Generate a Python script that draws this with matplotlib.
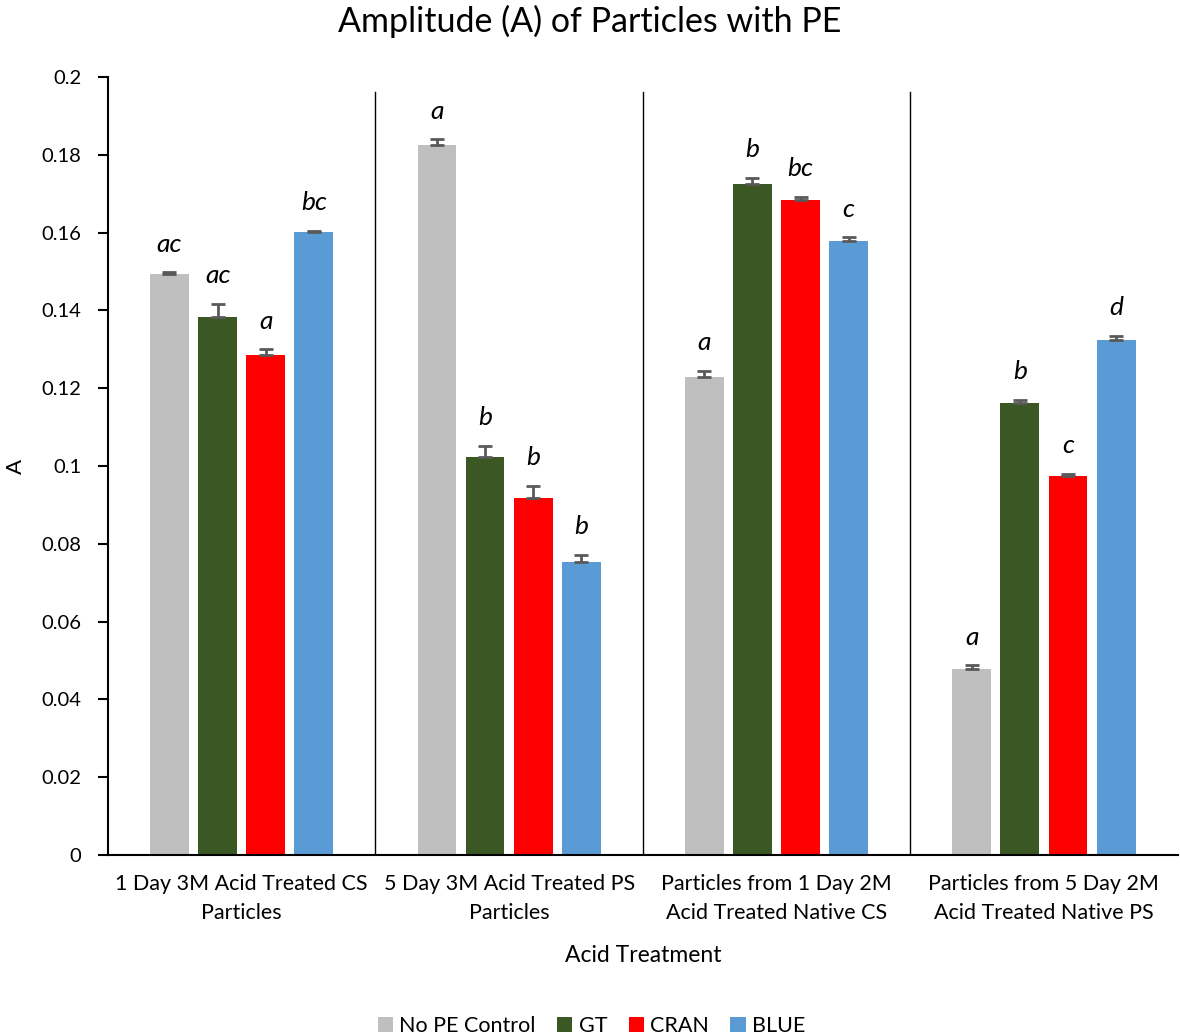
import matplotlib.pyplot as plt
import numpy as np

plt.rcParams['font.family'] = ['Lato', 'DejaVu Sans']

categories = ['1 Day 3M Acid Treated CS\nParticles', '5 Day 3M Acid Treated PS\nParticles',
              'Particles from 1 Day 2M\nAcid Treated Native CS', 'Particles from 5 Day 2M\nAcid Treated Native PS']
series = ['No PE Control', 'GT', 'CRAN', 'BLUE']
colors = ['#BFBFBF', '#3A5724', '#FF0000', '#5B9BD5']

no_pe = [0.1494, 0.1825, 0.1229, 0.0478]
gt = [0.1383, 0.1023, 0.1725, 0.1162]
cran = [0.1285, 0.0918, 0.1684, 0.0974]
blue = [0.1602, 0.0753, 0.1578, 0.1324]

no_pe_err = [0.0004, 0.0015, 0.0015, 0.0010]
gt_err = [0.0033, 0.0028, 0.0015, 0.0008]
cran_err = [0.0015, 0.0031, 0.0008, 0.0005]
blue_err = [0.0003, 0.0018, 0.0010, 0.0010]

no_pe_let = ['ac', 'a', 'a', 'a']
gt_let = ['ac', 'b', 'b', 'b']
cran_let = ['a', 'b', 'bc', 'c']
blue_let = ['bc', 'b', 'c', 'd']

vals = [no_pe, gt, cran, blue]
errs = [no_pe_err, gt_err, cran_err, blue_err]
lets = [no_pe_let, gt_let, cran_let, blue_let]

fig = plt.figure(figsize=(11.8, 10.36), dpi=100)
ax = fig.add_axes([0.0915, 0.1747, 0.9065, 0.751])

x = np.arange(len(categories))
w = 0.145
step = 0.18
for i in range(4):
    pos = x + (i - 1.5) * step
    ax.bar(pos, vals[i], w, color=colors[i], label=series[i], zorder=2)
    ax.errorbar(pos, vals[i], yerr=[np.zeros(4), errs[i]], fmt='none',
                ecolor='#595959', elinewidth=2, capsize=5, capthick=2, zorder=3)
    for p, v, e, t in zip(pos, vals[i], errs[i], lets[i]):
        ax.annotate(t, (p, v + e), xytext=(0, 12), textcoords='offset points',
                    ha='center', va='bottom', fontsize=19, style='italic')

for b in [0.5, 1.5, 2.5]:
    ax.axvline(b, ymin=0, ymax=0.981, color='black', lw=1)

ax.set_xlim(-0.5, 3.5)
ax.set_ylim(0, 0.2)
ax.set_yticks(np.arange(0, 0.201, 0.02))
ax.set_yticklabels(['0', '0.02', '0.04', '0.06', '0.08', '0.1', '0.12', '0.14', '0.16', '0.18', '0.2'])
ax.set_xticks(x)
ax.set_xticklabels(categories, fontsize=15.5, linespacing=1.55)
ax.tick_params(axis='x', length=0, pad=14)
ax.tick_params(axis='y', labelsize=14.5, direction='out', length=7, width=1.5, pad=12)
ax.spines['top'].set_visible(False)
ax.spines['right'].set_visible(False)
ax.spines['left'].set_linewidth(1.5)
ax.spines['bottom'].set_linewidth(1.5)
ax.set_ylabel('A', fontsize=16)
ax.yaxis.set_label_coords(-0.077, 0.5)
ax.set_xlabel('Acid Treatment', fontsize=16.5, labelpad=16)
fig.suptitle('Amplitude (A) of Particles with PE', fontsize=24.5, y=0.995)

ax.legend(loc='lower center', bbox_to_anchor=(0.452, -0.258), ncol=4, frameon=False,
          fontsize=15.5, handlelength=0.7, handleheight=0.7, handletextpad=0.3, columnspacing=1.0)

fig.savefig('out.png', dpi=100)
